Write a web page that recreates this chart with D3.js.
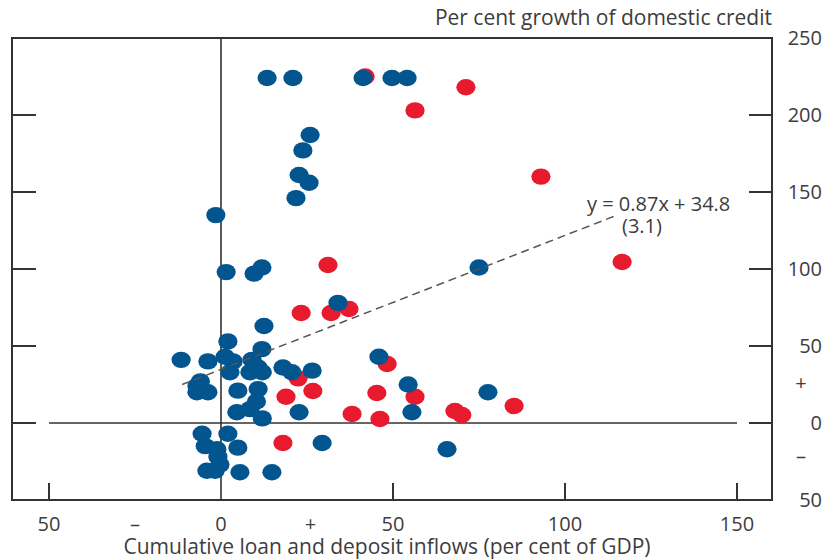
<!DOCTYPE html>
<html>
<head>
<meta charset="utf-8">
<script src="https://cdn.jsdelivr.net/npm/d3@7"></script>
<style>
  body { margin: 0; background: #fff; }
  text { font-family: "Open Sans", sans-serif; fill: #3d3d3d; }
</style>
</head>
<body>
<script>
// Blue countries: [cumulative inflows % GDP, % growth of domestic credit]
const blueX = [13.4, 20.9, 41.3, 49.7, 54.1, 25.9, 23.8, 22.7, 25.6, 21.8,
  -1.5, 1.5, 9.6, 11.9, 75.0, 34.0, 12.5, 2.0, -11.6, -3.8,
  1.2, 3.5, 11.9, 9.0, 2.6, 10.8, 8.4, 12.0, -6.0, -7.0,
  -7.0, -3.8, 4.9, 10.8, 10.3, 4.6, 8.4, 12.0, 18.0, 20.6,
  26.5, 22.7, 45.9, 54.4, 55.5, 77.6, 65.7, 29.4, -5.5, 2.0,
  -4.6, -1.2, 4.9, -0.9, -0.3, -4.1, -1.7, 5.5, 14.8];
const blueY = [224, 224, 224, 224, 224, 187, 177, 161, 156, 146,
  135, 98, 97, 101, 101, 78, 63, 53, 41, 40,
  43, 40, 48, 41, 33, 36, 33, 33, 27, 24,
  20, 20, 21, 22, 14, 7, 9, 3, 36, 33,
  34, 7, 43, 25, 7, 20, -17, -13, -7, -7,
  -15, -17, -16, -22, -27, -31, -31, -32, -32];

// Red countries
const redX = [41.9, 71.2, 56.4, 93.0, 116.6, 31.1, 23.3, 32.0, 37.2, 48.3,
  45.3, 56.4, 38.1, 46.2, 68.0, 70.0, 85.2, 22.4, 18.9, 26.7, 18.0];
const redY = [225, 218, 203, 160, 104.5, 102.6, 71.4, 71.4, 74, 38.3,
  19.5, 17, 5.8, 2.6, 7.8, 5.2, 11, 29, 17, 20.8, -13];

// fitted line y = 0.87x + 34.8, drawn over the range of the data
const fitSlope = 0.87, fitIntercept = 34.8;
const fitRange = [-11.3, 115.4];
const fitLabel = ["y = 0.87x + 34.8", "(3.1)"];

const xTickValues = [-50, 0, 50, 100, 150];
const xLabelValues = [-50, -25, 0, 26, 50, 100, 150];
const xLabels = ["50", "\u2013", "0", "+", "50", "100", "150"];
const yTickValues = [250, 200, 150, 100, 50, 0, -50];
const yLabelValues = [250, 200, 150, 100, 50, 26, 0, -21, -50];
const yLabels = ["250", "200", "150", "100", "50", "+", "0", "\u2013", "50"];

const yTitle = "Per cent growth of domestic credit";
const xTitle = "Cumulative loan and deposit inflows (per cent of GDP)";

const width = 825, height = 560;
const frame = {left: 12, right: 772, top: 38, bottom: 500};
const blue = "#02558e", red = "#e81a2d", ink = "#333";
const tickFont = "20px", titleFont = "21px";

const x = d3.scaleLinear().domain([-50, 150]).range([49, 737]);
const y = d3.scaleLinear().domain([-50, 250]).range([frame.bottom, frame.top]);

const svg = d3.select("body").append("svg")
    .attr("width", width)
    .attr("height", height);

// zero lines
svg.append("line")
    .attr("x1", x(-50)).attr("x2", x(150))
    .attr("y1", y(0)).attr("y2", y(0))
    .attr("stroke", ink).attr("stroke-width", 1.6);
svg.append("line")
    .attr("x1", x(0)).attr("x2", x(0))
    .attr("y1", frame.top).attr("y2", frame.bottom)
    .attr("stroke", ink).attr("stroke-width", 1.6);

// dots, red first then blue on top
const dots = svg.append("g");
dots.selectAll(".red")
  .data(d3.zip(redX, redY))
  .join("ellipse")
    .attr("class", "red")
    .attr("cx", d => x(d[0]))
    .attr("cy", d => y(d[1]))
    .attr("rx", 9.6).attr("ry", 8.2)
    .attr("fill", red);
dots.selectAll(".blue")
  .data(d3.zip(blueX, blueY))
  .join("ellipse")
    .attr("class", "blue")
    .attr("cx", d => x(d[0]))
    .attr("cy", d => y(d[1]))
    .attr("rx", 9.6).attr("ry", 8.2)
    .attr("fill", blue);

// regression line
svg.append("line")
    .attr("x1", x(fitRange[0])).attr("y1", y(fitSlope * fitRange[0] + fitIntercept))
    .attr("x2", x(fitRange[1])).attr("y2", y(fitSlope * fitRange[1] + fitIntercept))
    .attr("stroke", "#555")
    .attr("stroke-width", 1.5)
    .attr("stroke-dasharray", "8,5");

svg.append("text")
    .attr("x", 587).attr("y", 211)
    .style("font-size", tickFont)
    .text(fitLabel[0]);
svg.append("text")
    .attr("x", 622).attr("y", 233)
    .style("font-size", tickFont)
    .text(fitLabel[1]);

// frame
svg.append("rect")
    .attr("x", frame.left).attr("y", frame.top)
    .attr("width", frame.right - frame.left)
    .attr("height", frame.bottom - frame.top)
    .attr("fill", "none")
    .attr("stroke", ink)
    .attr("stroke-width", 2);

// inward ticks
const inner = yTickValues.filter(v => v > -50 && v < 250);
svg.append("g").selectAll("line")
  .data(inner)
  .join("line")
    .attr("x1", frame.left).attr("x2", frame.left + 24)
    .attr("y1", d => y(d)).attr("y2", d => y(d))
    .attr("stroke", ink).attr("stroke-width", 2);
svg.append("g").selectAll("line")
  .data(inner)
  .join("line")
    .attr("x1", frame.right - 23).attr("x2", frame.right)
    .attr("y1", d => y(d)).attr("y2", d => y(d))
    .attr("stroke", ink).attr("stroke-width", 2);
svg.append("g").selectAll("line")
  .data(xTickValues.filter(v => v !== 0))
  .join("line")
    .attr("x1", d => x(d)).attr("x2", d => x(d))
    .attr("y1", frame.bottom).attr("y2", frame.bottom - 17)
    .attr("stroke", ink).attr("stroke-width", 2);

// tick labels
svg.append("g").selectAll("text")
  .data(d3.zip(xLabelValues, xLabels))
  .join("text")
    .attr("x", d => x(d[0]))
    .attr("y", 531)
    .attr("text-anchor", "middle")
    .style("font-size", tickFont)
    .text(d => d[1]);

const isSign = s => s === "+" || s === "\u2013";
svg.append("g").selectAll("text")
  .data(d3.zip(yLabelValues, yLabels))
  .join("text")
    .attr("x", d => isSign(d[1]) ? 801 : 822)
    .attr("y", d => y(d[0]))
    .attr("dy", "0.36em")
    .attr("text-anchor", d => isSign(d[1]) ? "middle" : "end")
    .style("font-size", tickFont)
    .text(d => d[1]);

// titles
svg.append("text")
    .attr("x", frame.right).attr("y", 25)
    .attr("text-anchor", "end")
    .style("font-size", titleFont)
    .text(yTitle);
svg.append("text")
    .attr("x", 387).attr("y", 554)
    .attr("text-anchor", "middle")
    .style("font-size", titleFont)
    .text(xTitle);
</script>
</body>
</html>
